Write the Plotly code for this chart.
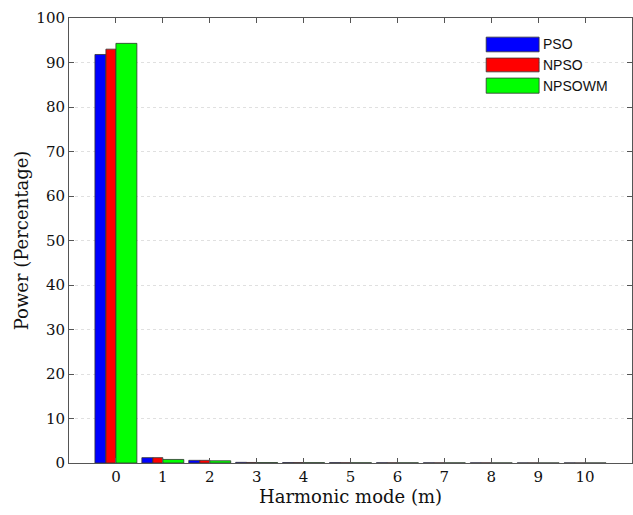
import plotly.graph_objects as go

modes = [0, 1, 2, 3, 4, 5, 6, 7, 8, 9, 10]
pso = [91.8, 1.2, 0.6, 0.15, 0.1, 0.08, 0.06, 0.05, 0.04, 0.03, 0.03]
npso = [93.0, 1.2, 0.6, 0.12, 0.1, 0.07, 0.05, 0.04, 0.04, 0.03, 0.02]
npsowm = [94.3, 0.8, 0.5, 0.1, 0.08, 0.06, 0.05, 0.04, 0.03, 0.02, 0.02]
names = ["PSO", "NPSO", "NPSOWM"]
colors = ["#0000ff", "#ff0000", "#00ff00"]
offsets = [-0.447, -0.213, 0.0]
widths = [0.234, 0.213, 0.447]

fig = go.Figure()
for vals, name, col, off, w in zip([pso, npso, npsowm], names, colors, offsets, widths):
    fig.add_trace(go.Bar(
        x=modes, y=vals, name=name, marker_color=col,
        marker_line_color="#333333", marker_line_width=0.8,
        offset=off, width=w, showlegend=False,
    ))

serif = "DejaVu Serif"
axis_common = dict(
    showline=True, linecolor="#555555", linewidth=1, mirror="ticks",
    ticks="inside", ticklen=5, tickcolor="#555555",
    zeroline=False,
    tickfont=dict(family=serif, size=15, color="#111111"),
)
fig.update_xaxes(range=[-1, 11], tickvals=modes, showgrid=False,
                 title=dict(text="Harmonic mode (m)", font=dict(family=serif, size=18, color="#111111"), standoff=0),
                 **axis_common)
fig.update_yaxes(range=[0, 100], tickvals=list(range(0, 101, 10)), showgrid=True,
                 gridcolor="#e0e0e0", griddash="dot", gridwidth=1,
                 title=dict(text="Power (Percentage)", font=dict(family=serif, size=18, color="#111111"), standoff=3),
                 **axis_common)

# legend drawn manually to match large patches
leg_y = [(0.957, 0.924), (0.910, 0.879), (0.865, 0.831)]
shapes = []
annotations = []
for (y1, y0), name, col in zip(leg_y, names, colors):
    shapes.append(dict(type="rect", xref="paper", yref="paper", x0=0.741, x1=0.835, y0=y0, y1=y1,
                       fillcolor=col, line=dict(color="#333333", width=0.8)))
    annotations.append(dict(xref="paper", yref="paper", x=0.838, y=(y0 + y1) / 2, text=name,
                            showarrow=False, xanchor="left", yanchor="middle",
                            font=dict(family="Liberation Sans", size=14, color="#111111")))

fig.update_layout(
    barmode="overlay", width=633, height=515,
    margin=dict(l=69, r=1, t=18, b=52),
    plot_bgcolor="white", paper_bgcolor="white",
    shapes=shapes, annotations=annotations,
)
fig.write_html("out.html")
